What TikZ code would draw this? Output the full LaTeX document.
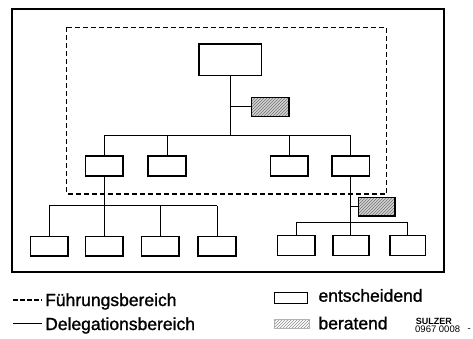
\documentclass[tikz,border=0pt]{standalone}
\usepackage{fontspec}
\setmainfont{Liberation Sans}
\newfontfamily\legfont[FakeBold=1.2]{Liberation Sans}
\usetikzlibrary{patterns}
\begin{document}
\begin{tikzpicture}[x=1pt,y=-1pt,
  box/.style={draw,line width=1.6pt,inner sep=0pt,minimum width=37.5pt,minimum height=20pt},
  hat/.style={box,fill=gray!35,pattern=north east lines,pattern color=black!55},
  conn/.style={line width=0.8pt},
  legtext/.style={anchor=base west,inner sep=0pt,font=\legfont\fontsize{17.5}{18}\selectfont}]
\useasboundingbox (0,0) rectangle (473,338);
\fill[white] (0,0) rectangle (473,338);
% frames
\draw[line width=1.3pt] (12,9) rectangle (444,272);
\draw[line width=1.2pt,dash pattern=on 5pt off 3pt] (66.7,27.3) rectangle (386.7,194);
% nodes
\node[box,minimum width=62.7pt,minimum height=31.3pt] (top) at (230.3,59.7) {};
\node[box,fill=gray!35,minimum width=37.4pt,minimum height=19pt] (hat1b) at (270,106.8) {};
\node[hat,minimum width=37.4pt,minimum height=19pt] (hat1) at (270,106.8) {};
\node[box] (A) at (104.3,165.7) {};
\node[box] (B) at (167,165.7) {};
\node[box] (C) at (289.3,165.7) {};
\node[box] (D) at (350.7,165.7) {};
\node[box,minimum height=19.3pt] (L1) at (49.3,246.3) {};
\node[box,minimum height=19.3pt] (L2) at (104.3,246.3) {};
\node[box,minimum height=19.3pt] (L3) at (160.2,246.3) {};
\node[box,minimum height=19.3pt] (L4) at (217,246.3) {};
\node[box,fill=gray!35,minimum width=36.7pt,minimum height=18.7pt] (hat2b) at (376.7,206.7) {};
\node[hat,minimum width=36.7pt,minimum height=18.7pt] (hat2) at (376.7,206.7) {};
\node[box] (R1) at (296.3,245.3) {};
\node[box,minimum width=36pt] (R2) at (350.7,245.3) {};
\node[box,minimum width=35.7pt] (R3) at (407.8,245.3) {};
% junctions
\coordinate (j1) at (230.3,135.7);
\coordinate (j2) at (104.3,205.7);
\coordinate (j3) at (350.7,222.3);
% connectors
\draw[conn] (top.south) -- (j1);
\draw[conn] (hat1.west) -- (hat1.west -| j1);
\draw[conn] (A.north |- j1) -- (D.north |- j1);
\foreach \n in {A,B,C,D} \draw[conn] (\n.north) -- (\n.north |- j1);
\draw[conn] (A.south) -- (L2.north);
\draw[conn] (L1.north |- j2) -- (L4.north |- j2);
\foreach \n in {L1,L3,L4} \draw[conn] (\n.north) -- (\n.north |- j2);
\draw[conn] (D.south) -- (R2.north);
\draw[conn] (hat2.west) -- (hat2.west -| j3);
\draw[conn] (R1.north |- j3) -- (R3.north |- j3);
\foreach \n in {R1,R3} \draw[conn] (\n.north) -- (\n.north |- j3);
% legend
\coordinate (ld1) at (13,300);
\coordinate (ld2) at (42,300);
\draw[line width=1.2pt,dash pattern=on 4.5pt off 2.5pt] (ld1) -- (ld2);
\node[legtext] (t1) at (45,306) {Führungsbereich};
\coordinate (ls1) at (13,323.7);
\coordinate (ls2) at (42,323.7);
\draw[line width=1.2pt] (ls1) -- (ls2);
\node[legtext] (t2) at (45,330) {Delegationsbereich};
\node[draw,line width=1.1pt,inner sep=0pt,minimum width=33.3pt,minimum height=10.6pt] (le) at (290.7,298) {};
\node[legtext] (t3) at (318.3,301.7) {entscheidend};
\node[draw=gray!60,inner sep=0pt,minimum width=35pt,minimum height=8.7pt,fill=gray!30,pattern=north east lines,pattern color=black!45] (lb) at (291.5,323.7) {};
\node[legtext] (t4) at (318.3,329.3) {beratend};
\node[anchor=base west,inner sep=0pt,font=\bfseries\fontsize{9}{10}\selectfont] (s1) at (415.7,324.3) {SULZER};
\node[anchor=base west,inner sep=0pt,font=\fontsize{9.5}{10}\selectfont] (s2) at (415,332.3) {0967 0008};
\node[anchor=base west,inner sep=0pt,font=\fontsize{9.5}{10}\selectfont] (s3) at (467.5,331) {-};
\end{tikzpicture}
\end{document}
